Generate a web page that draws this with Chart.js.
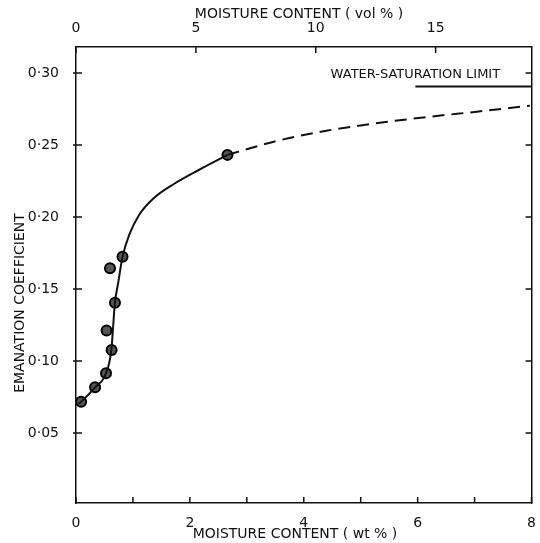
<!DOCTYPE html>
<html>
<head>
<meta charset="utf-8">
<script src="https://cdn.jsdelivr.net/npm/chart.js@4.4.1/dist/chart.umd.min.js"></script>
<style>
  html, body { margin: 0; padding: 0; background: #fff; }
</style>
</head>
<body>
<canvas id="chart" width="540" height="543"></canvas>
<script>
// Measured points (moisture wt %, emanation coefficient)
const pointWt = [0.09, 0.335, 0.527, 0.537, 0.625, 0.684, 0.597, 0.817, 2.66];
const pointCoef = [0.0717, 0.0817, 0.0915, 0.1211, 0.1076, 0.1405, 0.1644, 0.1724, 0.2431];

// Drawn curve, solid part
const curveWt = [0.04, 0.09, 0.335, 0.527, 0.62, 0.684, 0.74, 0.817, 0.934, 1.108, 1.370, 1.719, 2.155, 2.66];
const curveCoef = [0.0701, 0.0717, 0.0817, 0.0915, 0.1076, 0.1405, 0.154, 0.1724, 0.1875, 0.2014, 0.2132, 0.2229, 0.2326, 0.2431];

// Extrapolated (dashed) part
const dashWt = [2.66, 3.55, 4.42, 5.30, 6.17, 7.04, 7.97];
const dashCoef = [0.2431, 0.2530, 0.2600, 0.2652, 0.2694, 0.2731, 0.2772];

// Water-saturation limit
const limitWt = [5.96, 8];
const limitCoef = [0.2905, 0.2905];
const limitText = "WATER-SATURATION LIMIT";
const limitTextWt = 5.96;
const limitTextCoef = 0.2986;

// Axes
const wtTicks = [0, 1, 2, 3, 4, 5, 6, 7, 8];
const wtLabels = ["0", "", "2", "", "4", "", "6", "", "8"];
const volTicks = [0, 5, 10, 15];
const volLabels = ["0", "5", "10", "15"];
const coefTicks = [0.05, 0.10, 0.15, 0.20, 0.25, 0.30];
const coefLabels = ["0·05", "0·10", "0·15", "0·20", "0·25", "0·30"];

const ink = "#111";
const fontFamily = '"DejaVu Sans", sans-serif';

const toXY = (xs, ys) => xs.map((x, i) => ({ x: x, y: ys[i] }));
const setTicks = vals => scale => { scale.ticks = vals.map(v => ({ value: v })); };

// small tick marks pointing into the plot, plus the titles and the label
const decorations = {
    id: "decorations",
    afterDraw(chart) {
        const ctx = chart.ctx;
        const a = chart.chartArea;
        const s = chart.scales;
        const len = 6;
        ctx.save();
        ctx.strokeStyle = ink;
        ctx.lineWidth = 1.5;
        ctx.beginPath();
        wtTicks.forEach(v => {
            const px = s.x.getPixelForValue(v);
            ctx.moveTo(px, a.bottom); ctx.lineTo(px, a.bottom - len);
        });
        volTicks.forEach(v => {
            const px = s.xTop.getPixelForValue(v);
            ctx.moveTo(px, a.top); ctx.lineTo(px, a.top + len);
        });
        coefTicks.forEach(v => {
            const py = s.y.getPixelForValue(v);
            ctx.moveTo(a.left - 3, py); ctx.lineTo(a.left + len, py);
            ctx.moveTo(a.right, py); ctx.lineTo(a.right - len, py);
        });
        ctx.stroke();

        ctx.fillStyle = ink;
        ctx.font = "14px " + fontFamily;
        ctx.textAlign = "center";
        ctx.textBaseline = "middle";
        ctx.fillText("MOISTURE CONTENT ( vol % )", 299, 14);
        ctx.fillText("MOISTURE CONTENT ( wt % )", 295, 534);

        ctx.save();
        ctx.translate(20, 303);
        ctx.rotate(-Math.PI / 2);
        ctx.fillText("EMANATION COEFFICIENT", 0, 0);
        ctx.restore();

        ctx.font = "13px " + fontFamily;
        ctx.fillText(limitText, s.x.getPixelForValue(limitTextWt), s.y.getPixelForValue(limitTextCoef));
        ctx.restore();
    }
};

const tickFont = { family: fontFamily, size: 14 };
const border = { display: true, color: ink, width: 1.5 };

new Chart(document.getElementById("chart"), {
    type: "line",
    data: {
        datasets: [
            {
                data: toXY(curveWt, curveCoef),
                borderColor: ink, borderWidth: 2,
                pointRadius: 0, cubicInterpolationMode: "monotone", fill: false
            },
            {
                data: toXY(dashWt, dashCoef),
                borderColor: ink, borderWidth: 2, borderDash: [12, 7],
                pointRadius: 0, cubicInterpolationMode: "monotone", fill: false
            },
            {
                data: toXY(limitWt, limitCoef),
                borderColor: ink, borderWidth: 2,
                pointRadius: 0, fill: false
            },
            {
                data: toXY(pointWt, pointCoef),
                showLine: false,
                pointRadius: 5, pointBackgroundColor: "#555",
                pointBorderColor: "#000", pointBorderWidth: 2
            }
        ]
    },
    options: {
        responsive: false,
        animation: false,
        devicePixelRatio: 1,
        layout: { padding: 0 },
        plugins: { legend: { display: false }, tooltip: { enabled: false } },
        scales: {
            x: {
                type: "linear", position: "bottom", min: 0, max: 8,
                afterBuildTicks: setTicks(wtTicks),
                afterFit: s => { s.height = 40; },
                grid: { display: false }, border: border,
                ticks: {
                    padding: 4, color: ink, font: tickFont, autoSkip: false, maxRotation: 0,
                    callback: (v, i) => wtLabels[i]
                }
            },
            xTop: {
                type: "linear", position: "top", min: 0, max: 19,
                afterBuildTicks: setTicks(volTicks),
                afterFit: s => { s.height = 47; },
                grid: { display: false }, border: border,
                ticks: {
                    padding: 2, color: ink, font: tickFont, autoSkip: false, maxRotation: 0,
                    callback: (v, i) => volLabels[i]
                }
            },
            y: {
                type: "linear", position: "left", min: 0.0014, max: 0.318,
                afterBuildTicks: setTicks(coefTicks),
                afterFit: s => { s.width = 76; },
                grid: { display: false }, border: border,
                ticks: {
                    padding: 9, color: ink, font: tickFont, autoSkip: false,
                    callback: (v, i) => coefLabels[i]
                }
            },
            yRight: {
                type: "linear", position: "right", min: 0.0014, max: 0.318,
                afterBuildTicks: setTicks(coefTicks),
                afterFit: s => { s.width = 5; },
                grid: { display: false }, border: border,
                ticks: { display: false }
            }
        }
    },
    plugins: [decorations]
});
</script>
</body>
</html>
